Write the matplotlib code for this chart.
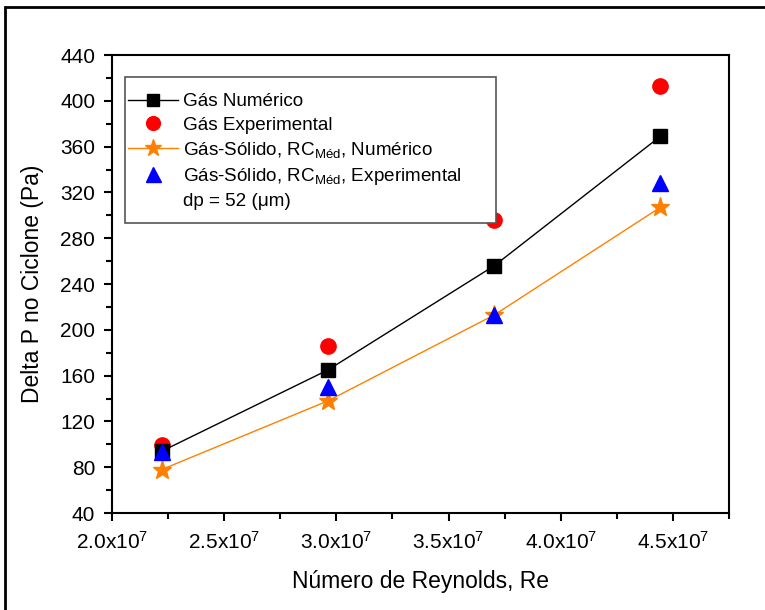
import matplotlib
matplotlib.use("Agg")
import matplotlib.pyplot as plt
from matplotlib.ticker import MultipleLocator, FuncFormatter
from matplotlib.patches import Rectangle

plt.rcParams['font.family'] = ['Liberation Sans', 'DejaVu Sans']
plt.rcParams['mathtext.fontset'] = 'custom'
plt.rcParams['mathtext.rm'] = 'Liberation Sans'
plt.rcParams['mathtext.it'] = 'Liberation Sans:italic'

# dados
reynolds = [2.222e7, 2.963e7, 3.704e7, 4.444e7]
gas_num = [94, 165, 256, 369]
gas_exp = [99, 186, 296, 413]
gs_num = [78, 138, 213, 307]
gs_exp = [93, 150, 213, 328]

fig = plt.figure(figsize=(7.65, 6.10), dpi=100)
ax = fig.add_axes([0.1464, 0.159, 0.8066, 0.7508])

# moldura da figura (só esquerda e topo aparecem)
fig.add_artist(Rectangle((0.006, -0.2), 1.3, 0.2 + 0.9885, transform=fig.transFigure,
                         fill=False, edgecolor='black', linewidth=2))

ax.plot(reynolds, gas_num, color='black', lw=1, marker='s', ms=9.5,
        markerfacecolor='black', markeredgecolor='black', label='Gás Numérico', zorder=3)
ax.plot(reynolds, gas_exp, linestyle='none', marker='o', ms=11,
        color='red', label='Gás Experimental', zorder=2)
ax.plot(reynolds, gs_num, color='#FF8000', lw=1, marker='*', ms=14,
        label=r'Gás-Sólido, RC$_{\mathrm{Méd}}$, Numérico', zorder=3)
ax.plot(reynolds, gs_exp, linestyle='none', marker='^', ms=12,
        color='blue', label=r'Gás-Sólido, RC$_{\mathrm{Méd}}$, Experimental', zorder=4)
ax.plot([], [], linestyle='none', label='dp = 52 (\u03bcm)')

ax.set_xlim(2.0e7, 4.75e7)
ax.set_ylim(40, 440)
ax.xaxis.set_major_locator(MultipleLocator(0.5e7))
ax.xaxis.set_minor_locator(MultipleLocator(0.25e7))
ax.yaxis.set_major_locator(MultipleLocator(40))
ax.yaxis.set_minor_locator(MultipleLocator(20))
ax.xaxis.set_major_formatter(FuncFormatter(lambda v, p: r'%.1fx10$^{7}$' % (v / 1e7)))

ax.tick_params(which='major', direction='out', length=6, width=1.5, labelsize=15)
ax.tick_params(which='minor', direction='out', length=4, width=1.5)
ax.tick_params(axis='x', which='major', pad=7)
ax.tick_params(axis='y', which='major', pad=6)
ax.tick_params(top=False, right=False)
for s in ax.spines.values():
    s.set_linewidth(1.5)

ax.set_xlabel('Número de Reynolds, Re', fontsize=16.5, labelpad=12)
ax.set_ylabel('Delta P no Ciclone (Pa)', fontsize=16.5, labelpad=12)

# caixa da legenda desenhada à parte
ax.add_patch(Rectangle((0.021, 0.633), 0.601, 0.319, transform=ax.transAxes,
                       fill=True, facecolor='white', edgecolor='#555555', linewidth=1.2, zorder=5))
leg = ax.legend(loc='upper left', bbox_to_anchor=(0.023, 0.921), fontsize=13.6,
                frameon=False, handlelength=2.65, handletextpad=0.25, borderpad=0.1,
                labelspacing=0.32, borderaxespad=0, markerscale=0.9)
leg.set_zorder(6)

fig.savefig('out.png', dpi=100)
